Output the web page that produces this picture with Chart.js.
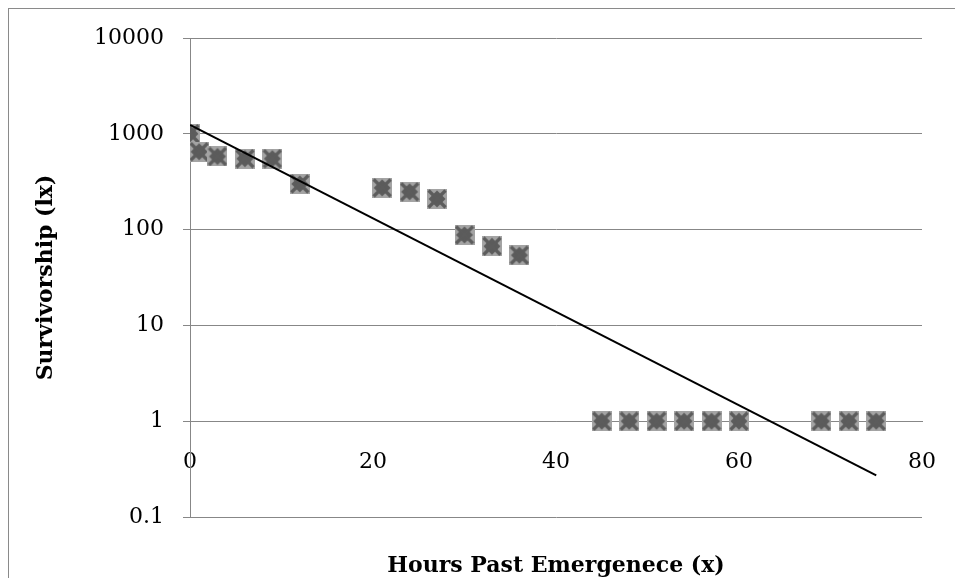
<!DOCTYPE html>
<html>
<head>
<meta charset="utf-8">
<script src="https://cdn.jsdelivr.net/npm/chart.js@4"></script>
<style>
  html, body { margin: 0; padding: 0; background: #fff; overflow: hidden; }
  #chart { display: block; }
</style>
</head>
<body>
<canvas id="chart" width="955" height="578"></canvas>
<script>
// hours past emergence (x) and survivorship (lx)
const hours = [0, 1, 3, 6, 9, 12, 21, 24, 27, 30, 33, 36, 45, 48, 51, 54, 57, 60, 69, 72, 75];
const survivorship = [1000, 650, 580, 550, 550, 300, 273, 248, 209, 88, 67, 54, 1, 1, 1, 1, 1, 1, 1, 1, 1];
const yTicks = [0.1, 1, 10, 100, 1000, 10000];
const xTicks = [0, 20, 40, 60, 80];

// exponential trendline (least squares on log values), like the spreadsheet does
function expFit(xs, ys) {
  const n = xs.length;
  const ly = ys.map(v => Math.log(v));
  const mx = xs.reduce((a, b) => a + b, 0) / n;
  const my = ly.reduce((a, b) => a + b, 0) / n;
  let sxy = 0, sxx = 0;
  for (let i = 0; i < n; i++) {
    sxy += (xs[i] - mx) * (ly[i] - my);
    sxx += (xs[i] - mx) * (xs[i] - mx);
  }
  const b = sxy / sxx;
  const a = Math.exp(my - b * mx);
  return x => a * Math.exp(b * x);
}
const fit = expFit(hours, survivorship);
const xMin = Math.min(...hours), xMax = Math.max(...hours);
const trend = [{ x: xMin, y: fit(xMin) }, { x: xMax, y: fit(xMax) }];

function makeMarker() {
  const s = 20;
  const c = document.createElement('canvas');
  c.width = s; c.height = s;
  const g = c.getContext('2d');
  g.fillStyle = '#a4a4a4';
  g.fillRect(0, 0, s, s);
  g.fillStyle = '#5c5c5c';
  g.beginPath();
  g.moveTo(10, 1.5); g.lineTo(18.5, 10); g.lineTo(10, 18.5); g.lineTo(1.5, 10);
  g.closePath();
  g.fill();
  g.strokeStyle = '#5c5c5c';
  g.lineWidth = 3.2;
  g.beginPath();
  g.moveTo(1.5, 1.5); g.lineTo(18.5, 18.5);
  g.moveTo(18.5, 1.5); g.lineTo(1.5, 18.5);
  g.stroke();
  return c;
}
const marker = makeMarker();

const frame = {
  id: 'frame',
  beforeDraw(chart) {
    const ctx = chart.ctx;
    ctx.save();
    ctx.strokeStyle = '#8a8a8a';
    ctx.lineWidth = 1;
    ctx.strokeRect(8.5, 8.5, 1200, 1200);
    ctx.restore();
  }
};

const gridColor = '#878787';
const serif = "'DejaVu Serif', serif";

new Chart(document.getElementById('chart'), {
  type: 'scatter',
  data: {
    datasets: [
      {
        label: 'lx',
        data: hours.map((h, i) => ({ x: h, y: survivorship[i] })),
        pointStyle: marker,
        pointRadius: 10,
        pointHoverRadius: 10,
        order: 2
      },
      {
        label: 'trend',
        type: 'line',
        data: trend,
        borderColor: '#000',
        borderWidth: 2,
        pointRadius: 0,
        fill: false,
        order: 1
      }
    ]
  },
  options: {
    responsive: false,
    animation: false,
    events: [],
    layout: { padding: { left: 0, top: 38, right: 33, bottom: 0 } },
    plugins: {
      legend: { display: false },
      tooltip: { enabled: false },
      title: {
        display: true,
        position: 'bottom',
        fullSize: false,
        text: 'Hours Past Emergenece (x)',
        color: '#000',
        font: { family: serif, size: 22, weight: 'bold', lineHeight: 1 },
        padding: { top: 38, bottom: 1 }
      }
    },
    scales: {
      x: {
        type: 'linear',
        position: { y: 1 },
        min: 0,
        max: 80,
        afterBuildTicks: s => { s.ticks = xTicks.map(v => ({ value: v })); },
        afterFit: s => { s.paddingLeft = 0; s.paddingRight = 0; },
        grid: { display: false, drawTicks: false },
        border: { display: true, color: gridColor, width: 1 },
        ticks: {
          color: '#000',
          padding: 28,
          maxRotation: 0,
          font: { family: serif, size: 22 }
        }
      },
      y: {
        type: 'logarithmic',
        min: 0.1,
        max: 10000,
        afterBuildTicks: s => { s.ticks = yTicks.map(v => ({ value: v })); },
        afterFit: s => { s.width = 190; },
        grid: { color: gridColor, lineWidth: 1, tickLength: 7, drawTicks: true },
        border: { display: true, color: gridColor, width: 1 },
        ticks: {
          color: '#000',
          padding: 19,
          font: { family: serif, size: 22 },
          callback: v => String(v)
        },
        title: {
          display: true,
          text: 'Survivorship (lx)',
          color: '#000',
          font: { family: serif, size: 22, weight: 'bold', lineHeight: 1 },
          padding: { top: 35, bottom: 0 }
        }
      }
    }
  },
  plugins: [frame]
});
</script>
</body>
</html>
